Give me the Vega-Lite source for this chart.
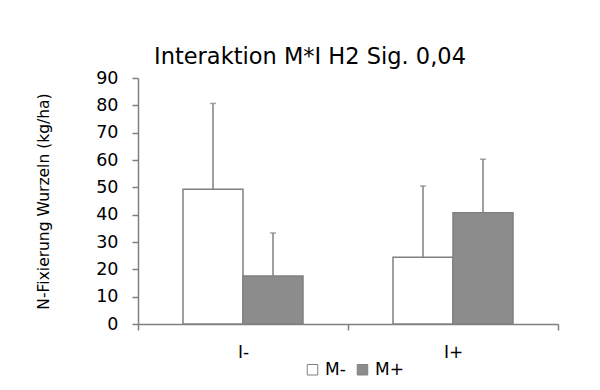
{
  "$schema": "https://vega.github.io/schema/vega-lite/v6.json",
  "width": 420,
  "height": 246,
  "autosize": {"type": "none"},
  "padding": {"left": 138, "top": 78, "right": 42, "bottom": 66},
  "background": "white",
  "config": {
    "view": {"stroke": null},
    "font": "DejaVu Sans",
    "axis": {"labelFont": "DejaVu Sans", "titleFont": "DejaVu Sans", "labelColor": "black", "titleColor": "black", "domainColor": "#808080", "tickColor": "#808080", "grid": false}
  },
  "title": {
    "text": "Interaktion M*I H2 Sig. 0,04",
    "fontSize": 22.5,
    "fontWeight": "normal",
    "font": "DejaVu Sans",
    "color": "black",
    "offset": 1,
    "dx": -38
  },
  "data": {
    "values": [
      {"I": "I-", "M": "M-", "mean": 49.3, "upper": 80.7},
      {"I": "I-", "M": "M+", "mean": 17.6, "upper": 33.3},
      {"I": "I+", "M": "M-", "mean": 24.4, "upper": 50.5},
      {"I": "I+", "M": "M+", "mean": 40.7, "upper": 60.3}
    ]
  },
  "encoding": {
    "x": {
      "field": "I", "type": "nominal", "sort": ["I-", "I+"],
      "scale": {"paddingInner": 0, "paddingOuter": 0},
      "axis": {"title": null, "labelAngle": 0, "labelFontSize": 17, "labelPadding": 14, "tickBand": "extent", "tickSize": 6, "domainWidth": 1.5, "tickWidth": 1.5}
    },
    "xOffset": {
      "field": "M", "type": "nominal", "sort": ["M-", "M+"],
      "scale": {"paddingInner": 0, "paddingOuter": 0.75}
    },
    "y": {
      "field": "mean", "type": "quantitative",
      "scale": {"domain": [0, 90], "nice": false},
      "axis": {"title": "N-Fixierung Wurzeln (kg/ha)", "titleFontSize": 15.5, "titleFontWeight": "normal", "titlePadding": 44, "labelFontSize": 17.5, "labelPadding": 14, "labelOverlap": false, "labelFlush": false, "tickCount": 10, "values": [0,10,20,30,40,50,60,70,80,90], "tickSize": 6, "domainWidth": 1.5, "tickWidth": 1.5}
    }
  },
  "layer": [
    {
      "mark": {"type": "bar", "stroke": "#808080", "strokeWidth": 1.5},
      "encoding": {
        "color": {
          "field": "M", "type": "nominal", "sort": ["M-", "M+"],
          "scale": {"domain": ["M-", "M+"], "range": ["#ffffff", "#8c8c8c"]},
          "legend": {
            "title": null, "orient": "none", "direction": "horizontal",
            "legendX": 166, "legendY": 283,
            "symbolType": "square", "symbolSize": 110, "symbolStrokeColor": "#808080", "symbolStrokeWidth": 1,
            "labelFontSize": 17, "labelFont": "DejaVu Sans", "labelColor": "black",
            "labelOffset": 4, "columnPadding": 8, "symbolOpacity": 1
          }
        }
      }
    },
    {
      "mark": {"type": "rule", "color": "#808080", "strokeWidth": 1.5},
      "encoding": {
        "y2": {"field": "upper"}
      }
    },
    {
      "mark": {"type": "tick", "color": "#808080", "size": 6, "thickness": 1.5},
      "encoding": {
        "y": {"field": "upper", "type": "quantitative", "axis": {"title": "N-Fixierung Wurzeln (kg/ha)", "titleFontSize": 15.5, "titleFontWeight": "normal", "titlePadding": 44, "labelFontSize": 17.5, "labelPadding": 14, "labelOverlap": false, "labelFlush": false, "tickCount": 10, "values": [0,10,20,30,40,50,60,70,80,90], "tickSize": 6, "domainWidth": 1.5, "tickWidth": 1.5}}
      }
    }
  ]
}
